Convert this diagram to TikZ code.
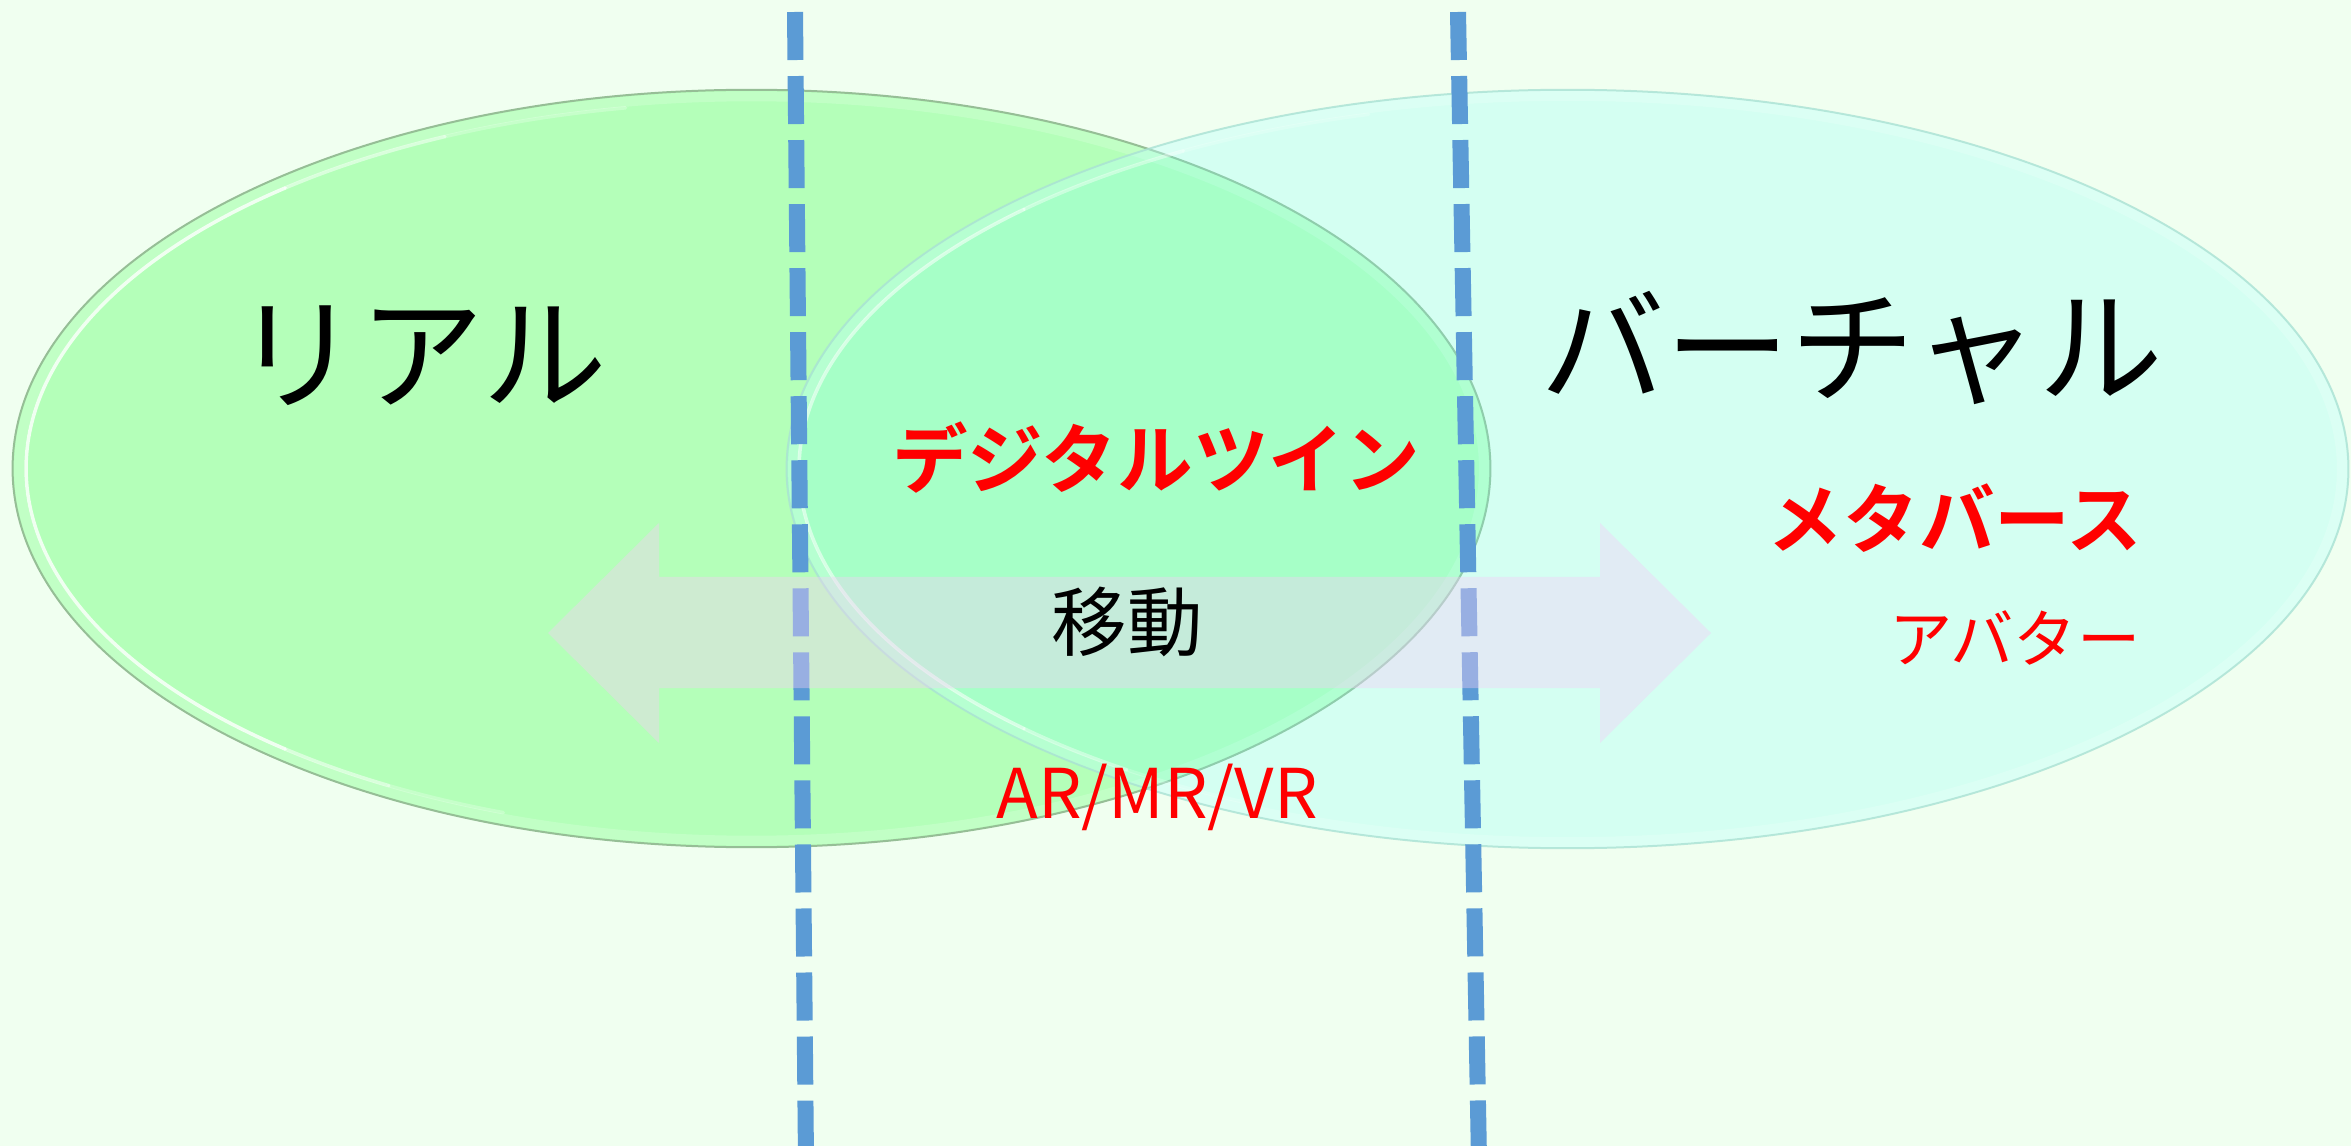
\documentclass[tikz,border=0pt]{standalone}
\usepackage{fontspec}
\usetikzlibrary{shapes.geometric}
\newfontfamily\jp{Noto Sans CJK JP}
\newfontfamily\jpb{Noto Sans CJK JP Bold}
\definecolor{bg}{RGB}{240,255,240}
\definecolor{realfill}{RGB}{180,255,185}
\definecolor{virtfill}{RGB}{120,255,249}
\definecolor{dashblue}{RGB}{91,155,213}
\definecolor{arrowfill}{RGB}{245,205,247}
\definecolor{realedge}{RGB}{150,190,150}
\definecolor{virtedge}{RGB}{170,225,212}
\definecolor{pred}{RGB}{255,0,0}
\begin{document}
\begin{tikzpicture}[x=0.01cm,y=-0.01cm,
  ell/.style={ellipse, inner sep=0pt, line width=0.02cm},
  band/.style={draw=white, line width=0.10cm, opacity=0.18},
  shine/.style={draw=white, line width=0.035cm, line cap=round},
  dline/.style={draw=dashblue, line width=0.16cm, dash pattern=on 0.48cm off 0.16cm},
  lbl/.style={inner sep=0pt, anchor=center},
  big/.style={lbl, font=\jp\fontsize{35.5pt}{35.5pt}\selectfont, text=black},
  redb/.style={lbl, font=\jpb\fontsize{21.5pt}{21.5pt}\selectfont, text=pred},
  reds/.style={lbl, font=\jp\fontsize{18pt}{18pt}\selectfont, text=pred},
  mid/.style={lbl, font=\jp\fontsize{21.5pt}{21.5pt}\selectfont, text=black},
  latin/.style={lbl, font=\jp\fontsize{19.5pt}{19.5pt}\selectfont, text=pred}
]
\fill[bg] (0,0) rectangle (2351,1146);
\useasboundingbox (0,0) rectangle (2351,1146);

% left ellipse (real)
\node[ell, fill=realfill, draw=realedge, minimum width=14.77cm, minimum height=7.57cm] (real) at (751.5,468.5) {};
\draw[band] (real.center) ellipse [x radius=7.32cm, y radius=3.72cm];
\foreach \a/\b/\o in {100/115/0.25,115/130/0.5,130/230/0.8,230/240/0.5,240/250/0.25}{
  \draw[shine, opacity=\o] (real.center) ++(\a:7.25cm and 3.66cm)
    arc [start angle=\a, end angle=\b, x radius=7.25cm, y radius=3.66cm];
}

% right ellipse (virtual)
\node[ell, fill=virtfill, fill opacity=0.233, draw=virtedge, draw opacity=0.8, minimum width=15.61cm, minimum height=7.58cm] (virt) at (1567.5,469) {};
\draw[band] (virt.center) ellipse [x radius=7.74cm, y radius=3.73cm];
\foreach \a/\b/\o in {105/120/0.2,120/135/0.4,135/225/0.55,225/235/0.4,235/245/0.2}{
  \draw[shine, opacity=\o] (virt.center) ++(\a:7.68cm and 3.67cm)
    arc [start angle=\a, end angle=\b, x radius=7.68cm, y radius=3.67cm];
}

% dashed separators
\coordinate (l1) at (795,12);
\coordinate (l2) at (806,1160);
\coordinate (r1) at (1458,12);
\coordinate (r2) at (1479,1160);
\draw[dline] (l1) -- (l2);
\draw[dline] (r1) -- (r2);

% double arrow
\fill[arrowfill, opacity=0.4] (548,633) -- (659,523) -- (659,577) -- (1600,577) -- (1600,523)
  -- (1711,633) -- (1600,743) -- (1600,688) -- (659,688) -- (659,743) -- cycle;

% labels
\node[big] (treal) at (421,356) {リアル};
\node[big] (tvirt) at (1852,348) {バーチャル};
\node[redb] (tdt) at (1156,458) {デジタルツイン};
\node[redb] (tmeta) at (1955,518) {メタバース};
\node[reds] (tava) at (2015,638) {アバター};
\node[mid] (tmove) at (1127,622) {移動};
\node[latin] (tar) at (1157,797) {AR/MR/VR};
\end{tikzpicture}
\end{document}
